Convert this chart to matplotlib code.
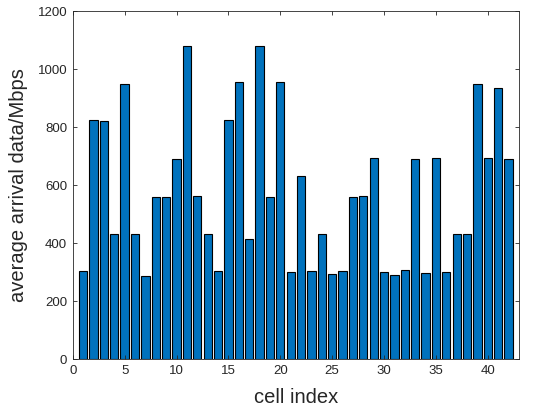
import numpy as np
import matplotlib
matplotlib.use("Agg")
import matplotlib.pyplot as plt

plt.rcParams['font.family'] = ['Liberation Sans', 'DejaVu Sans']

cells = np.arange(1, 43)
arrival = [305, 825, 822, 432, 947, 432, 286, 560, 560, 690,
           1079, 562, 432, 305, 823, 956, 415, 1079, 560, 956,
           301, 633, 305, 431, 294, 303, 560, 562, 694, 299,
           289, 306, 691, 298, 695, 301, 430, 432, 947, 694,
           933, 691]

fig = plt.figure(figsize=(5.35, 4.09), dpi=100)
ax = fig.add_axes([0.136, 0.122, 0.834, 0.851])

ax.bar(cells, arrival, width=0.8, color='#0072BD', edgecolor='black', linewidth=0.8)

ax.set_xlim(0, 43)
ax.set_ylim(0, 1200)
ax.set_xticks(np.arange(0, 41, 5))
ax.set_yticks(np.arange(0, 1201, 200))
ax.tick_params(direction='in', top=True, right=True, labelsize=9.5,
               colors='#262626', length=3, width=0.6, pad=4)
for s in ax.spines.values():
    s.set_color('#262626')
    s.set_linewidth(0.6)

ax.set_xlabel('cell index', fontsize=14.5, color='#262626', labelpad=8)
ax.set_ylabel('average arrival data/Mbps', fontsize=14.5, color='#262626', labelpad=7)

fig.savefig('out.png', dpi=100)
